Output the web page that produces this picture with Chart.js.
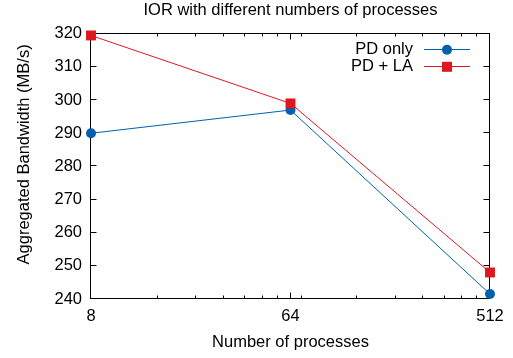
<!DOCTYPE html>
<html>
<head>
<meta charset="utf-8">
<title>IOR with different numbers of processes</title>
<script src="https://cdn.jsdelivr.net/npm/chart.js@4"></script>
<style>
  html, body { margin: 0; padding: 0; background: #fff; }
  #wrap { width: 513px; height: 358px; }
</style>
</head>
<body>
<div id="wrap"><canvas id="ior" width="513" height="358"></canvas></div>
<script>
// values
var PROCS = [8, 64, 512];
var PD_ONLY = [290, 297, 241.5];
var PD_LA = [319.5, 299, 248];
var SERIES_NAMES = ["PD only", "PD + LA"];

// tick values (gnuplot style: labels on majors, short inward minors)
var X_MAJOR = [8, 64, 512];
var X_MINOR = [16, 24, 32, 40, 48, 56, 72, 128, 192, 256, 320, 384, 448];
var Y_TICKS = [240, 250, 260, 270, 280, 290, 300, 310, 320];

var FONT_FAMILY = "'Liberation Sans', Arial, Helvetica, sans-serif";
var FS = 16.5;
var LH = FS * 1.2;

function crisp(v) { return Math.round(v) + 0.5; }

// frame + inward ticks on all four sides, drawn under the data
var framePlugin = {
  id: "gnuplotFrame",
  beforeDatasetsDraw: function (chart) {
    var ctx = chart.ctx;
    var a = chart.chartArea;
    var xs = chart.scales.x, ys = chart.scales.y;
    var L = crisp(a.left) - 1, R = crisp(a.right) - 1, T = crisp(a.top) - 1, B = crisp(a.bottom) - 1;
    ctx.save();
    ctx.strokeStyle = "#000";
    ctx.lineWidth = 1;
    ctx.beginPath();
    Y_TICKS.forEach(function (v) {
      var y = crisp(ys.getPixelForValue(v)) - 1;
      ctx.moveTo(L, y); ctx.lineTo(L + 6, y);
      ctx.moveTo(R, y); ctx.lineTo(R - 6, y);
    });
    X_MAJOR.forEach(function (v) {
      var x = crisp(xs.getPixelForValue(v)) - 1;
      ctx.moveTo(x, B); ctx.lineTo(x, B - 6);
      ctx.moveTo(x, T); ctx.lineTo(x, T + 6);
    });
    X_MINOR.forEach(function (v) {
      var x = crisp(xs.getPixelForValue(v)) - 1;
      ctx.moveTo(x, B); ctx.lineTo(x, B - 3);
      ctx.moveTo(x, T); ctx.lineTo(x, T + 3);
    });
    ctx.stroke();
    ctx.strokeRect(L, T, R - L, B - T);
    ctx.restore();
  },
  afterDraw: function (chart) {
    var ctx = chart.ctx;
    var a = chart.chartArea;
    ctx.save();
    ctx.font = FS + "px " + FONT_FAMILY;
    ctx.fillStyle = "#000";

    // y axis title, sits a bit above the plot middle like the original
    ctx.save();
    ctx.translate(24, (a.top + a.bottom) / 2 - 12);
    ctx.rotate(-Math.PI / 2);
    ctx.textAlign = "center";
    ctx.textBaseline = "middle";
    ctx.fillText("Aggregated Bandwidth (MB/s)", 0, 0);
    ctx.restore();

    // legend: text, then line sample with marker
    chart.data.datasets.forEach(function (ds, i) {
      var y = a.top + 16 + i * 17;
      var tx = a.right - 77;
      var x0 = a.right - 66, x1 = a.right - 20, xm = (x0 + x1) / 2;
      ctx.textAlign = "right";
      ctx.textBaseline = "middle";
      ctx.fillStyle = "#000";
      ctx.fillText(ds.label, tx, y);
      ctx.strokeStyle = ds.borderColor;
      ctx.lineWidth = 1;
      ctx.beginPath();
      ctx.moveTo(x0, crisp(y) - 1);
      ctx.lineTo(x1, crisp(y) - 1);
      ctx.stroke();
      ctx.fillStyle = ds.backgroundColor;
      ctx.beginPath();
      if (ds.pointStyle === "rect") {
        ctx.rect(xm - 5, y - 5, 10, 10);
      } else {
        ctx.arc(xm, y, 5, 0, Math.PI * 2);
      }
      ctx.fill();
    });
    ctx.restore();
  }
};

function toPoints(vals) {
  return PROCS.map(function (p, i) { return { x: p, y: vals[i] }; });
}

var ctx = document.getElementById("ior").getContext("2d");
new Chart(ctx, {
  type: "line",
  data: {
    datasets: [
      {
        label: SERIES_NAMES[0],
        data: toPoints(PD_ONLY),
        borderColor: "#0060ad",
        backgroundColor: "#0060ad",
        borderWidth: 1,
        pointStyle: "circle",
        pointRadius: 5,
        pointBorderWidth: 0,
        tension: 0,
        clip: false,
        order: 1
      },
      {
        label: SERIES_NAMES[1],
        data: toPoints(PD_LA),
        borderColor: "#dd181f",
        backgroundColor: "#dd181f",
        borderWidth: 1,
        pointStyle: "rect",
        pointRadius: 7,
        pointBorderWidth: 0,
        tension: 0,
        clip: false,
        order: 0
      }
    ]
  },
  options: {
    responsive: false,
    animation: false,
    devicePixelRatio: 1,
    layout: { padding: { left: 0, right: 23, top: 0, bottom: 0 } },
    plugins: {
      legend: { display: false },
      tooltip: { enabled: false },
      title: {
        display: true,
        fullSize: false,
        text: "IOR with different numbers of processes",
        color: "#000",
        font: { family: FONT_FAMILY, size: FS, weight: "normal", lineHeight: 1.2 },
        padding: { top: 1, bottom: 13 }
      }
    },
    scales: {
      x: {
        type: "logarithmic",
        min: 8,
        max: 512,
        grid: { display: false, drawTicks: false },
        border: { display: false },
        afterBuildTicks: function (s) {
          s.ticks = X_MAJOR.map(function (v) { return { value: v }; });
        },
        afterFit: function (s) { s.height = 59; },
        ticks: {
          color: "#000",
          autoSkip: false,
          maxRotation: 0,
          padding: 8,
          font: { family: FONT_FAMILY, size: FS, lineHeight: 1.2 },
          callback: function (v) { return String(v); }
        },
        title: {
          display: true,
          text: "Number of processes",
          color: "#000",
          font: { family: FONT_FAMILY, size: FS, lineHeight: 1.2 },
          padding: { top: 0, bottom: 6 }
        }
      },
      y: {
        min: 240,
        max: 320,
        grid: { display: false, drawTicks: false },
        border: { display: false },
        afterBuildTicks: function (s) {
          s.ticks = Y_TICKS.map(function (v) { return { value: v }; });
        },
        afterFit: function (s) { s.width = 91; },
        ticks: {
          color: "#000",
          padding: 9,
          font: { family: FONT_FAMILY, size: FS, lineHeight: 1.2 }
        }
      }
    }
  },
  plugins: [framePlugin]
});
</script>
</body>
</html>
